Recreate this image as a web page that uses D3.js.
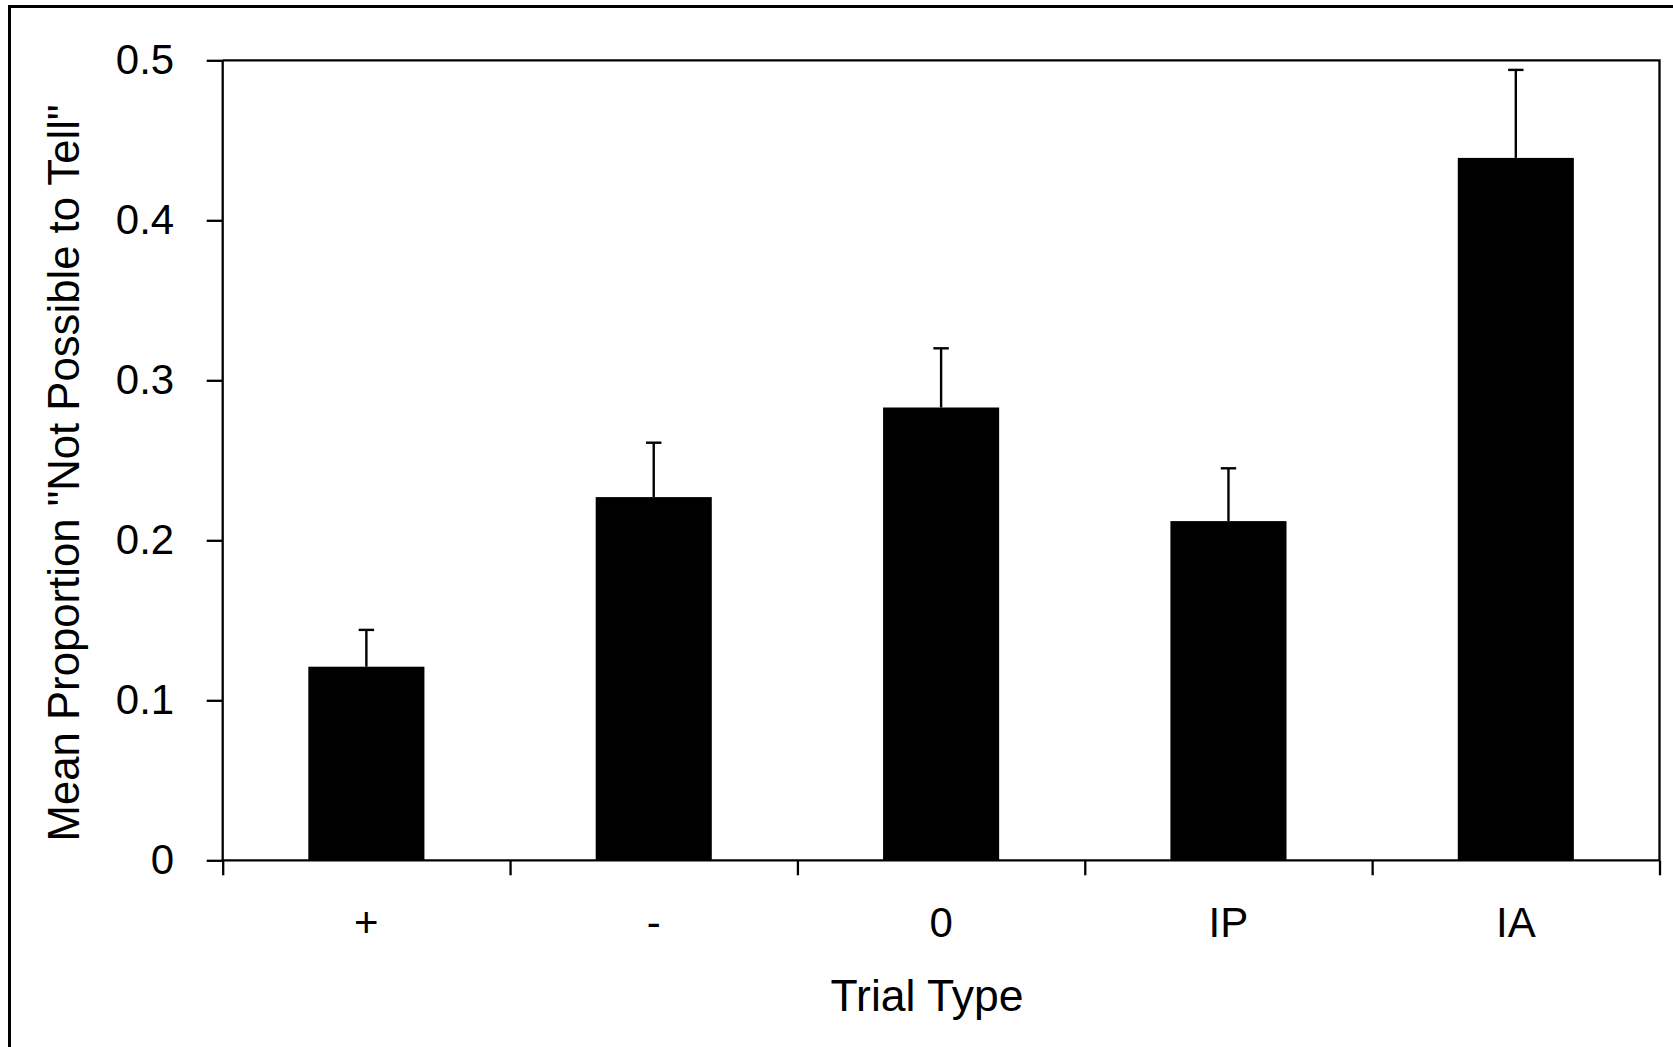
<!DOCTYPE html>
<html>
<head>
<meta charset="utf-8">
<script src="https://cdn.jsdelivr.net/npm/d3@7"></script>
<style>
  html, body { margin: 0; padding: 0; background: #fff; overflow: hidden; }
  svg { display: block; font-family: Arial, "Liberation Sans", sans-serif; }
</style>
</head>
<body>
<div id="chart"></div>
<script>
const categories = ["+", "-", "0", "IP", "IA"];
const means = [0.121, 0.227, 0.283, 0.212, 0.439];
const errors = [0.023, 0.034, 0.037, 0.033, 0.055];
const yTicks = [0, 0.1, 0.2, 0.3, 0.4, 0.5];

const width = 1673;
const height = 1047;
const plot = { left: 222.7, right: 1659.5, top: 60.3, bottom: 860.3 };
const font = "Arial, 'Liberation Sans', sans-serif";

const svg = d3
  .select("#chart")
  .append("svg")
  .attr("width", width)
  .attr("height", height);

// outer frame (right and bottom edges fall outside the picture)
svg
  .append("rect")
  .attr("x", 9.5)
  .attr("y", 6.5)
  .attr("width", width + 20)
  .attr("height", height + 20)
  .attr("fill", "none")
  .attr("stroke", "#000")
  .attr("stroke-width", 3);

const x = d3
  .scaleBand()
  .domain(categories)
  .range([plot.left, plot.right])
  .paddingInner(0.596)
  .paddingOuter(0.298);

const xEdge = d3
  .scaleLinear()
  .domain([0, categories.length])
  .range([plot.left, plot.right]);

const y = d3.scaleLinear().domain([0, 0.5]).range([plot.bottom, plot.top]);

// bars
svg
  .append("g")
  .selectAll("rect")
  .data(categories)
  .join("rect")
  .attr("x", (d) => x(d))
  .attr("width", x.bandwidth())
  .attr("y", (d, i) => y(means[i]))
  .attr("height", (d, i) => y(0) - y(means[i]))
  .attr("fill", "#000");

// error bars (upper only)
const err = svg.append("g").attr("stroke", "#000").attr("stroke-width", 2.4);
categories.forEach((c, i) => {
  const cx = x(c) + x.bandwidth() / 2;
  const top = y(means[i] + errors[i]);
  err.append("line").attr("x1", cx).attr("x2", cx).attr("y1", y(means[i])).attr("y2", top);
  err.append("line").attr("x1", cx - 7.7).attr("x2", cx + 7.7).attr("y1", top).attr("y2", top);
});

// frame of the plot area (top and right)
svg
  .append("path")
  .attr("d", `M${plot.left},${plot.top}H${plot.right}V${plot.bottom}`)
  .attr("fill", "none")
  .attr("stroke", "#000")
  .attr("stroke-width", 2.3);

// y axis
const yAxis = svg
  .append("g")
  .attr("transform", `translate(${plot.left},0)`)
  .call(
    d3
      .axisLeft(y)
      .tickValues(yTicks)
      .tickSize(16)
      .tickPadding(32.5)
      .tickFormat((d) => (d === 0 ? "0" : d.toFixed(1))),
  );
yAxis.select(".domain").attr("d", `M0,${plot.top}V${plot.bottom}`).attr("stroke-width", 2.3);
yAxis.selectAll(".tick line").attr("stroke-width", 2.3);
yAxis.selectAll("text").attr("font-size", 42).attr("font-family", font).attr("fill", "#000");

// x axis: ticks at category boundaries
const xAxis = svg
  .append("g")
  .attr("transform", `translate(0,${plot.bottom})`)
  .call(
    d3
      .axisBottom(xEdge)
      .tickValues(d3.range(categories.length + 1))
      .tickSize(15)
      .tickFormat(""),
  );
xAxis.select(".domain").attr("d", `M${plot.left},0H${plot.right}`).attr("stroke-width", 2.3);
xAxis.selectAll(".tick line").attr("stroke-width", 2.3);

// category labels
const xLabels = svg
  .append("g")
  .attr("transform", `translate(0,${plot.bottom})`)
  .call(d3.axisBottom(x).tickSize(0).tickPadding(47));
xLabels.select(".domain").remove();
xLabels.selectAll("text").attr("font-size", 42).attr("font-family", font).attr("fill", "#000");

// axis titles
svg
  .append("text")
  .attr("x", 927)
  .attr("y", 1010.5)
  .attr("text-anchor", "middle")
  .attr("font-size", 44.5)
  .text("Trial Type");

svg
  .append("text")
  .attr("transform", "translate(79,473) rotate(-90)")
  .attr("text-anchor", "middle")
  .attr("font-size", 43.7)
  .text('Mean Proportion "Not Possible to Tell"');
</script>
</body>
</html>
